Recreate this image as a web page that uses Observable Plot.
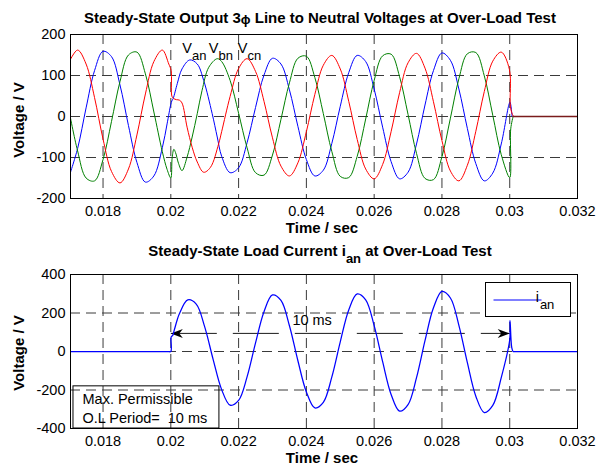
<!DOCTYPE html>
<html>
<head>
<meta charset="utf-8">
<script src="https://cdn.jsdelivr.net/npm/d3@7"></script>
<script src="https://cdn.jsdelivr.net/npm/@observablehq/plot@0.6"></script>
<style>
  body { margin: 0; background: #fff; }
  #chart { position: relative; width: 597px; height: 468px; }
  #chart svg { display: block; }
  #chart svg text { white-space: pre; }
</style>
</head>
<body>
<div id="chart"></div>
<script>
// ---------- tick values & labels ----------
const xTicks = [0.018, 0.02, 0.022, 0.024, 0.026, 0.028, 0.03, 0.032];
const xTickLabels = ["0.018", "0.02", "0.022", "0.024", "0.026", "0.028", "0.03", "0.032"];
const yTicksTop = [-200, -100, 0, 100, 200];
const yTicksBottom = [-400, -200, 0, 200, 400];

// ---------- V_an (blue) ----------
const tVan = [0.017,0.01725,0.0175,0.01775,0.018,0.01825,0.0185,0.01875,0.019,0.01925,0.0195,0.01975,0.01989,0.02,0.02003,0.02007,0.02019,0.02033,0.02056,0.02078,0.02097,0.02122,0.02137,0.0215,0.02175,0.022,0.02225,0.0225,0.02275,0.023,0.02325,0.0235,0.02375,0.024,0.02425,0.0245,0.02475,0.025,0.02525,0.0255,0.02575,0.026,0.02625,0.0265,0.02675,0.027,0.02725,0.0275,0.02775,0.028,0.02825,0.0285,0.02875,0.029,0.02925,0.0295,0.02975,0.02998,0.03001,0.03007];
const vVan = [-146,-78,21,112,159,146,77,-22,-112,-160,-145,-76,-18,30,38,44,80,116,138,128,88,7,-50,-97,-137,-125,-64,22,101,142,128,65,-24,-105,-145,-131,-66,25,107,149,134,67,-26,-110,-152,-136,-67,28,112,155,137,67,-29,-115,-157,-138,-67,30,35,0];

// ---------- V_bn (green) ----------
const tVbn = [0.017,0.01725,0.0175,0.01775,0.018,0.01825,0.0185,0.01875,0.019,0.01925,0.0195,0.01975,0.01989,0.02,0.02004,0.02009,0.02014,0.02023,0.02033,0.02048,0.02063,0.02078,0.02092,0.02112,0.02137,0.0215,0.02175,0.022,0.02225,0.0225,0.02275,0.023,0.02325,0.0235,0.02375,0.024,0.02425,0.0245,0.02475,0.025,0.02525,0.0255,0.02575,0.026,0.02625,0.0265,0.02675,0.027,0.02725,0.0275,0.02775,0.028,0.02825,0.0285,0.02875,0.029,0.02925,0.0295,0.02975,0.03,0.03003,0.0301];
const vVbn = [13,-84,-150,-157,-105,-12,85,150,157,104,11,-86,-129,-150,-100,-80,-88,-115,-132,-99,-50,7,63,120,141,134,88,8,-76,-137,-143,-94,-7,82,142,147,95,7,-85,-146,-149,-97,-6,88,148,152,97,5,-90,-151,-154,-98,-4,92,153,156,99,3,-93,-149,-30,0];

// ---------- V_cn (red) ----------
const tVcn = [0.017,0.01725,0.0175,0.01775,0.018,0.01825,0.0185,0.01875,0.019,0.01925,0.0195,0.01975,0.01994,0.02001,0.02003,0.02008,0.02017,0.02025,0.02033,0.02048,0.02063,0.02078,0.02097,0.02117,0.02141,0.0215,0.02175,0.022,0.02225,0.0225,0.02275,0.023,0.02325,0.0235,0.02375,0.024,0.02425,0.0245,0.02475,0.025,0.02525,0.0255,0.02575,0.026,0.02625,0.0265,0.02675,0.027,0.02725,0.0275,0.02775,0.028,0.02825,0.0285,0.02875,0.029,0.02925,0.0295,0.02975,0.02999,0.03002,0.03008,0.03012];
const vVcn = [133,162,128,46,-55,-134,-162,-128,-45,55,134,162,128,112,50,44,41,40,33,-26,-75,-111,-136,-124,-67,-37,49,117,141,110,37,-52,-121,-145,-113,-37,54,125,149,116,37,-56,-128,-152,-117,-37,58,131,154,118,36,-59,-133,-157,-119,-36,61,135,157,115,25,5,0];

// ---------- all three phases at zero after the load is removed ----------
const tOff = [0.0301, 0.032];
const vOff = [0, 0];

// ---------- load current i_an ----------
const tIan = [0.017,0.0199,0.02,0.02001,0.02006,0.0201,0.02019,0.02025,0.0205,0.02075,0.021,0.02125,0.0215,0.02175,0.022,0.02225,0.0225,0.02275,0.023,0.02325,0.0235,0.02375,0.024,0.02425,0.0245,0.02475,0.025,0.02525,0.0255,0.02575,0.026,0.02625,0.0265,0.02675,0.027,0.02725,0.0275,0.02775,0.028,0.02825,0.0285,0.02875,0.029,0.02925,0.0295,0.02975,0.03,0.03001,0.03006,0.0301,0.03015,0.0302,0.032];
const vIan = [0,0,0,75,85,110,165,195,268,246,128,-42,-198,-279,-254,-132,45,207,294,265,134,-48,-210,-293,-264,-133,50,216,299,268,134,-53,-223,-310,-276,-136,56,227,312,278,136,-58,-232,-317,-280,-136,61,160,20,0,0,0,0];

// ---------- annotations ----------
const phaseLabelT = [0.020334, 0.021118, 0.021974];
const phaseLabelV = [154, 154, 154];
const phaseLabelMain = ["V", "V", "V"];
const phaseLabelSub = ["an", "bn", "cn"];

const spanT = [0.02, 0.03];
const spanV = 94;
const spanLabel = "10 ms";
const spanLabelT = 0.023587;
const spanLabelV = 137;

const noteBoxT = [0.017128, 0.021434];
const noteBoxV = [-400, -181];
const noteLines = ["Max. Permissible", "O.L Period=  10 ms"];
const noteLineT = 0.017394;
const noteLineV = [-273, -370];

// ---------- build tables ----------
const toRows = (ts, vs) => ts.map((t, i) => ({t, v: vs[i]}));
const van = toRows(tVan, vVan);
const vbn = toRows(tVbn, vVbn);
const vcn = toRows(tVcn, vVcn);
const voff = toRows(tOff, vOff);
const ian = toRows(tIan, vIan);
const phaseLabels = phaseLabelT.map((t, i) => ({t, v: phaseLabelV[i], main: phaseLabelMain[i], sub: phaseLabelSub[i]}));
const spanRow = [{x1: spanT[0], x2: spanT[1], y: spanV}];
const spanHeads = [{t: spanT[0], v: spanV, rot: 180}, {t: spanT[1], v: spanV, rot: 0}];
const noteRows = noteLines.map((s, i) => ({t: noteLineT, v: noteLineV[i], s}));
const noteBox = [{x1: noteBoxT[0], x2: noteBoxT[1], y1: noteBoxV[0], y2: noteBoxV[1]}];

const FONT = '"Liberation Sans", Arial, Helvetica, sans-serif';
const xDomain = [0.01704, 0.032];
const gridStyle = {stroke: "#3a3a3a", strokeWidth: 1, strokeDasharray: "10,6"};
const xFmt = d => xTickLabels[xTicks.indexOf(d)];

const arrowHead = {
  draw(ctx) {
    ctx.moveTo(0, 0);
    ctx.lineTo(-12, -4.5);
    ctx.lineTo(-8.5, 0);
    ctx.lineTo(-12, 4.5);
    ctx.closePath();
  }
};

const common = {
  width: 597,
  height: 234,
  marginLeft: 70,
  marginRight: 20,
  style: {fontFamily: FONT, fontSize: "14.5px", color: "black", background: "white", overflow: "visible"},
  x: {domain: xDomain}
};

const topPlot = Plot.plot({
  ...common,
  marginTop: 34,
  marginBottom: 36,
  y: {domain: [-200, 200]},
  marks: [
    Plot.ruleX(xTicks.slice(0, -1), gridStyle),
    Plot.ruleY(yTicksTop.slice(1, -1), gridStyle),
    Plot.line(van, {x: "t", y: "v", stroke: "#0000ff", strokeWidth: 1, curve: "catmull-rom", clip: true}),
    Plot.line(vbn, {x: "t", y: "v", stroke: "#008000", strokeWidth: 1, curve: "catmull-rom", clip: true}),
    Plot.line(vcn, {x: "t", y: "v", stroke: "#ff0000", strokeWidth: 1, curve: "catmull-rom", clip: true}),
    Plot.line(voff, {x: "t", y: "v", stroke: "#7a1c1c", strokeWidth: 1.7, clip: true}),
    Plot.text(phaseLabels, {x: "t", y: "v", text: "main", textAnchor: "start", lineAnchor: "bottom", fontSize: 14.5, fill: "black"}),
    Plot.text(phaseLabels, {x: "t", y: "v", text: "sub", textAnchor: "start", lineAnchor: "bottom", fontSize: 13, dx: 9.8, dy: 6.6, fill: "black"}),
    Plot.axisX({ticks: xTicks, tickFormat: xFmt, tickSize: 0, tickPadding: 7, label: null}),
    Plot.axisY({ticks: yTicksTop, tickFormat: d => String(d), tickSize: 0, tickPadding: 5, label: null}),
    Plot.frame({stroke: "black", strokeWidth: 1})
  ]
});

const botPlot = Plot.plot({
  ...common,
  marginTop: 40,
  marginBottom: 40,
  y: {domain: [-400, 400]},
  marks: [
    Plot.ruleX(xTicks.slice(0, -1), gridStyle),
    Plot.ruleY(yTicksBottom.slice(1, -1), gridStyle),
    Plot.rect(noteBox, {x1: "x1", x2: "x2", y1: "y1", y2: "y2", fill: "none", stroke: "black", strokeWidth: 1}),
    Plot.text(noteRows, {x: "t", y: "v", text: "s", textAnchor: "start", lineAnchor: "bottom", fontSize: 14.5, fill: "black"}),
    Plot.link(spanRow, {x1: "x1", x2: "x2", y1: "y", y2: "y", stroke: "#1a1a1a", strokeWidth: 1, strokeDasharray: "46,16"}),
    Plot.dot(spanHeads, {x: "t", y: "v", symbol: arrowHead, rotate: "rot", r: 4, fill: "black", stroke: "none"}),
    Plot.text([spanLabel], {x: () => spanLabelT, y: () => spanLabelV, text: d => d, textAnchor: "start", lineAnchor: "bottom", fontSize: 14.5, fill: "black"}),
    Plot.line(ian, {x: "t", y: "v", stroke: "#0000ff", strokeWidth: 1.25, curve: "catmull-rom", clip: true}),
    Plot.axisX({ticks: xTicks, tickFormat: xFmt, tickSize: 0, tickPadding: 7, label: null}),
    Plot.axisY({ticks: yTicksBottom, tickFormat: d => String(d), tickSize: 0, tickPadding: 5, label: null}),
    Plot.frame({stroke: "black", strokeWidth: 1})
  ]
});

// ---------- titles, axis labels, legend ----------
function decorate(svg, cfg) {
  const s = d3.select(svg);
  const title = s.append("text")
    .attr("x", 320).attr("y", cfg.titleY)
    .attr("text-anchor", "middle")
    .attr("font-family", FONT).attr("font-weight", "bold").attr("font-size", 15)
    .attr("fill", "black");
  cfg.title(title);
  s.append("text")
    .attr("x", 322).attr("y", cfg.xLabelY)
    .attr("text-anchor", "middle")
    .attr("font-family", FONT).attr("font-weight", "bold").attr("font-size", 15)
    .attr("fill", "black")
    .text("Time / sec");
  s.append("text")
    .attr("transform", `translate(24,${cfg.yLabelY}) rotate(-90)`)
    .attr("text-anchor", "middle")
    .attr("font-family", FONT).attr("font-weight", "bold").attr("font-size", 15)
    .attr("fill", "black")
    .text("Voltage / V");
}

decorate(topPlot, {
  titleY: 22.7, xLabelY: 233, yLabelY: 120,
  title: t => {
    t.append("tspan").text("Steady-State Output 3");
    t.append("tspan").attr("font-size", 13).attr("dy", 1.5).text("ϕ");
    t.append("tspan").attr("dy", -1.5).text(" Line to Neutral Voltages at Over-Load Test");
  }
});

decorate(botPlot, {
  titleY: 22, xLabelY: 229, yLabelY: 119,
  title: t => {
    t.append("tspan").text("Steady-State Load Current i");
    t.append("tspan").attr("font-size", 13).attr("dy", 7).text("an");
    t.append("tspan").attr("dy", -7).text(" at Over-Load Test");
  }
});

// legend (bottom panel)
{
  const s = d3.select(botPlot);
  const g = s.append("g").attr("font-family", FONT);
  g.append("rect").attr("x", 485.5).attr("y", 48.5).attr("width", 85).attr("height", 34)
    .attr("fill", "white").attr("stroke", "black").attr("stroke-width", 1);
  g.append("line").attr("x1", 493.5).attr("x2", 541.5).attr("y1", 66).attr("y2", 66)
    .attr("stroke", "#0000ff").attr("stroke-width", 1);
  const lt = g.append("text").attr("x", 545).attr("y", 67.7).attr("font-size", 14.5).attr("fill", "black");
  lt.append("tspan").text("i");
  lt.append("tspan").attr("font-size", 13).attr("dx", 1).attr("dy", 6.8).text("an");
}

const chart = document.getElementById("chart");
chart.appendChild(topPlot);
chart.appendChild(botPlot);
</script>
</body>
</html>
